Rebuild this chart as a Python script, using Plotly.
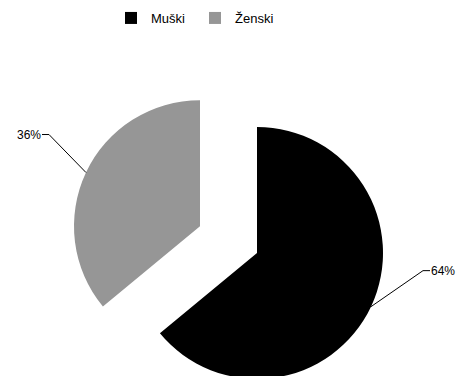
import math
import plotly.graph_objects as go

# Data
labels = ["Muški", "Ženski"]
values = [64, 36]
colors = ["#000000", "#969696"]
pulls = [0, 0.5]

# Figure geometry (pixels)
W, H = 461, 442
M_L, M_R, M_T, M_B = 68, 15, 64, 0
PW, PH = W - M_L - M_R, H - M_T - M_B
FONT = "Liberation Sans, Arial, sans-serif"

fig = go.Figure(
    go.Pie(
        labels=labels,
        values=values,
        marker=dict(colors=colors, line=dict(width=0)),
        pull=pulls,
        sort=False,
        direction="clockwise",
        rotation=0,
        textinfo="none",
        hoverinfo="label+percent",
        domain=dict(x=[0, 1], y=[0, 1]),
    )
)

# Pie geometry as plotly computes it: r = min(w, h) / 2 / (1 + max pull)
cx, cy = M_L + PW / 2, M_T + PH / 2
radius = min(PW, PH) / 2 / (1 + max(pulls))


def to_paper(px, py):
    return (px - M_L) / PW, 1 - (py - M_T) / PH


# Leader lines and percentage labels, placed from each slice's mid angle
elbow_offsets = [(52, -36), (-37, -38)]  # elbow position relative to the slice edge
tick_len = 7
total = sum(values)
cum = 0
for val, pull, (ox, oy) in zip(values, pulls, elbow_offsets):
    mid = (cum + val / 2) / total * 2 * math.pi
    cum += val
    dx, dy = math.sin(mid), -math.cos(mid)
    ex, ey = cx + radius * (1 + pull) * dx, cy + radius * (1 + pull) * dy
    bx, by = ex + ox, ey + oy
    side = 1 if dx > 0 else -1
    tx = bx + side * tick_len
    pts = [to_paper(ex, ey), to_paper(bx, by), to_paper(tx, by)]
    path = "M {} {} L {} {} L {} {}".format(*[c for p in pts for c in p])
    fig.add_shape(type="path", path=path, xref="paper", yref="paper",
                  line=dict(color="#000000", width=1))
    pct = round(val / total * 100)
    lx, ly = to_paper(tx, by)
    fig.add_annotation(x=lx, y=ly, xref="paper", yref="paper",
                       text=f"{pct}%", showarrow=False,
                       xanchor="left" if side > 0 else "right", yanchor="middle",
                       borderpad=0,
                       font=dict(family=FONT, size=12, color="#000000"))

fig.update_layout(
    width=W,
    height=H,
    margin=dict(l=M_L, r=M_R, t=M_T, b=M_B, autoexpand=False),
    paper_bgcolor="#ffffff",
    plot_bgcolor="#ffffff",
    font=dict(family=FONT, size=13, color="#000000"),
    showlegend=True,
    legend=dict(
        orientation="h",
        xref="container", yref="container",
        x=111 / W, xanchor="left",
        y=1 - 18 / H, yanchor="middle",
        entrywidth=39,
        font=dict(family=FONT, size=13, color="#000000"),
        bgcolor="rgba(0,0,0,0)",
    ),
)

fig.write_html(
    "out.html",
    post_script="document.documentElement.style.overflow='hidden';"
                "document.body.style.overflow='hidden';",
)
